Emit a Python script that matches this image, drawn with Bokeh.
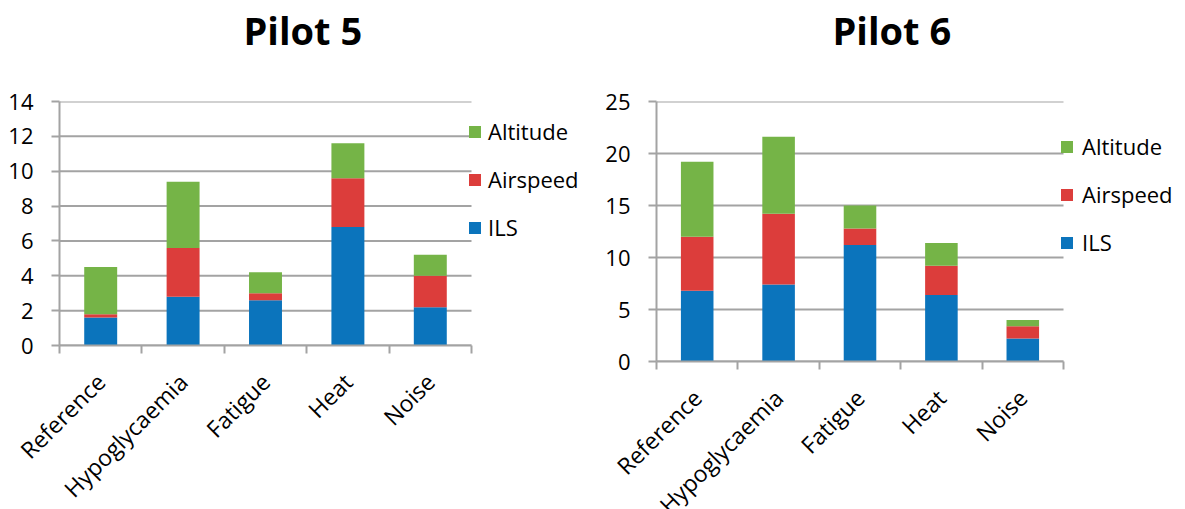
import math
from bokeh.plotting import figure
from bokeh.models import (ColumnDataSource, FixedTicker, Legend, LegendItem, Title, Range1d)
from bokeh.layouts import row
from bokeh.embed import file_html
from bokeh.resources import INLINE

conditions = ["Reference", "Hypoglycaemia", "Fatigue", "Heat", "Noise"]
series = ["ILS", "Airspeed", "Altitude"]
colors = ["#0B74BC", "#DC3D3B", "#75B447"]

pilot5_ils = [1.6, 2.8, 2.6, 6.8, 2.2]
pilot5_airspeed = [0.2, 2.8, 0.4, 2.8, 1.8]
pilot5_altitude = [2.7, 3.8, 1.2, 2.0, 1.2]

pilot6_ils = [6.8, 7.4, 11.2, 6.4, 2.2]
pilot6_airspeed = [5.2, 6.8, 1.6, 2.8, 1.2]
pilot6_altitude = [7.2, 7.4, 2.2, 2.2, 0.6]

pilot5_yticks = [0, 2, 4, 6, 8, 10, 12, 14]
pilot6_yticks = [0, 5, 10, 15, 20, 25]

FONT = "Open Sans"
GREY = "#A3A3A3"


def make_chart(title, ils, airspeed, altitude, yticks, plot_w, legend_w, frame_h, top, left,
               title_offset, legend_y, legend_standoff):
    n = len(conditions)
    centers = [i + 0.5 for i in range(n)]
    src = ColumnDataSource(dict(x=centers, ILS=ils, Airspeed=airspeed, Altitude=altitude))
    frame_w = plot_w + legend_w
    p = figure(output_backend="svg", toolbar_location=None,
               frame_width=frame_w, frame_height=frame_h,
               x_range=Range1d(0, n * frame_w / plot_w),
               y_range=Range1d(yticks[0], yticks[-1]),
               min_border_left=left, min_border_right=0, min_border_top=top,
               min_border_bottom=10, outline_line_color=None,
               background_fill_color="white", border_fill_color="white")

    # horizontal gridlines limited to the category area
    p.segment(x0=[0] * len(yticks), x1=[n] * len(yticks), y0=yticks, y1=yticks,
              line_color=GREY, line_width=2)
    p.xgrid.visible = False
    p.ygrid.visible = False

    rs = p.vbar_stack(series, x="x", width=0.4, source=src,
                      fill_color=colors, line_color=None)

    p.add_layout(Title(text=title + "\n ", text_font=FONT, text_font_size="38px",
                       text_font_style="bold", text_color="#000000",
                       text_line_height=0.88, vertical_align="bottom",
                       align="left", offset=title_offset, standoff=0), "above")

    yax = p.yaxis[0]
    yax.ticker = FixedTicker(ticks=yticks)
    yax.axis_line_color = GREY
    yax.axis_line_width = 2
    yax.major_tick_line_color = GREY
    yax.major_tick_line_width = 2
    yax.major_tick_out = 8
    yax.major_tick_in = 0
    yax.minor_tick_line_color = None
    yax.major_label_standoff = 18
    yax.major_label_text_font = FONT
    yax.major_label_text_font_size = "22px"
    yax.major_label_text_color = "#000000"

    xax = p.xaxis[0]
    xax.bounds = (0, n)
    xax.ticker = FixedTicker(ticks=centers, minor_ticks=list(range(n + 1)))
    xax.major_label_overrides = {c: lab for c, lab in zip(centers, conditions)}
    xax.major_label_orientation = math.pi / 4
    xax.axis_line_color = GREY
    xax.axis_line_width = 2
    xax.major_tick_line_color = None
    xax.major_tick_out = 0
    xax.major_tick_in = 0
    xax.minor_tick_line_color = GREY
    xax.minor_tick_line_width = 2
    xax.minor_tick_out = 8
    xax.minor_tick_in = 0
    xax.major_label_standoff = 24
    xax.major_label_text_font = FONT
    xax.major_label_text_font_size = "23px"
    xax.major_label_text_color = "#000000"

    items = [LegendItem(label=series[i], renderers=[rs[i]]) for i in (2, 1, 0)]
    legend = Legend(items=items, location=(plot_w - 4, legend_y), orientation="vertical",
                    glyph_width=15, glyph_height=15, label_standoff=legend_standoff,
                    label_height=30, spacing=18, padding=0, margin=0,
                    border_line_color=None, background_fill_alpha=0,
                    label_text_font=FONT, label_text_font_size="22px",
                    label_text_color="#000000")
    p.add_layout(legend, "center")
    return p


p5 = make_chart("Pilot 5", pilot5_ils, pilot5_airspeed, pilot5_altitude, pilot5_yticks,
                plot_w=412, legend_w=111, frame_h=244, top=101, left=59, title_offset=184,
                legend_y=103, legend_standoff=6)
p6 = make_chart("Pilot 6", pilot6_ils, pilot6_airspeed, pilot6_altitude, pilot6_yticks,
                plot_w=407, legend_w=122, frame_h=260, top=99, left=74, title_offset=176,
                legend_y=104, legend_standoff=8)

layout = row(p5, p6)
open("out.html", "w").write(file_html(layout, INLINE))
